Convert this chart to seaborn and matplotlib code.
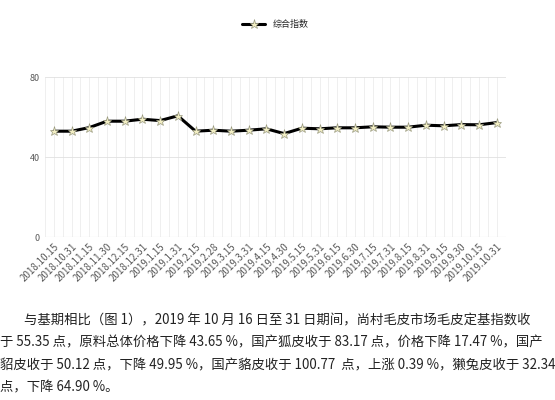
import matplotlib
matplotlib.use("Agg")
import matplotlib.pyplot as plt
import seaborn as sns
import pandas as pd
import numpy as np

dates = ["2018.10.15","2018.10.31","2018.11.15","2018.11.30","2018.12.15","2018.12.31",
         "2019.1.15","2019.1.31","2019.2.15","2019.2.28","2019.3.15","2019.3.31",
         "2019.4.15","2019.4.30","2019.5.15","2019.5.31","2019.6.15","2019.6.30",
         "2019.7.15","2019.7.31","2019.8.15","2019.8.31","2019.9.15","2019.9.30",
         "2019.10.15","2019.10.31"]
values = [53, 53, 54.8, 58, 58, 59, 58.3, 60.7, 53, 53.5, 53, 53.5, 54.2, 51.8,
          54.5, 54.2, 54.7, 54.7, 55.2, 55, 55, 56, 55.7, 56.3, 56.2, 57.3]
series_name = "综合指数"
yticks = [0, 40, 80]

sns.set_theme(style="white")
plt.rcParams['font.family'] = ['Noto Sans CJK SC', 'DejaVu Sans']

df = pd.DataFrame({"x": np.arange(len(dates)), "v": values})
fig = plt.figure(figsize=(5.55, 4.0), dpi=100)
ax = fig.add_axes([0.081, 0.407, 0.83, 0.4])
sns.lineplot(data=df, x="x", y="v", ax=ax, color="black", lw=2.2,
             marker="*", markersize=6.5, markerfacecolor="#f3efc4",
             markeredgecolor="#9a9a80", markeredgewidth=0.5, label=series_name)
ax.set_xlim(-0.5, len(dates) - 0.5)
ax.set_ylim(0, 80)
ax.set_yticks(yticks)
ax.set_xticks(np.arange(len(dates)))
ax.set_xticklabels(dates, rotation=45, ha="right", rotation_mode="anchor", fontsize=7, color="#595959")
ax.set_xticks(np.arange(len(dates) + 1) - 0.5, minor=True)
ax.tick_params(axis="y", labelsize=6.5, colors="#595959", length=0)
ax.tick_params(axis="x", length=0, pad=3)
ax.grid(True, which="both", axis="x", color="#ececec", lw=0.6)
ax.grid(True, axis="y", color="#e0e0e0", lw=0.6)
ax.set_xlabel(""); ax.set_ylabel("")
for s in ax.spines.values():
    s.set_visible(False)
ax.axhline(0, color="#d0d0d0", lw=0.8)
ax.legend(loc="lower center", bbox_to_anchor=(0.5, 1.25), frameon=False, fontsize=6.5,
          handlelength=2.5)

lines = ["        与基期相比（图 1），2019 年 10 月 16 日至 31 日期间，尚村毛皮市场毛皮定基指数收",
         "于 55.35 点，原料总体价格下降 43.65 %，国产狐皮收于 83.17 点，价格下降 17.47 %，国产",
         "貂皮收于 50.12 点，下降 49.95 %，国产貉皮收于 100.77  点，上涨 0.39 %，獭兔皮收于 32.34",
         "点，下降 64.90 %。"]
for i, t in enumerate(lines):
    fig.text(0.0, 1 - (320 + i * 22.5) / 400, t, fontsize=9.6, color="#222222", va="center")

fig.savefig("out.png", dpi=100)
